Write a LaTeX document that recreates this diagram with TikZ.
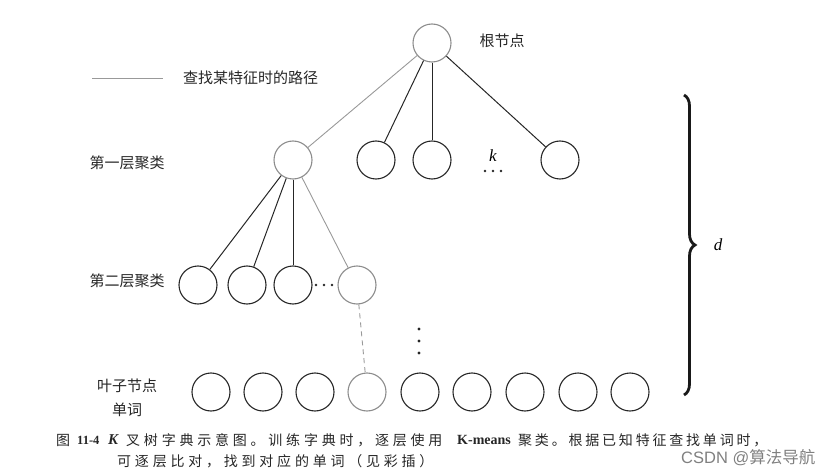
\documentclass[tikz,border=0pt]{standalone}
\usepackage{fontspec}
\setmainfont{Liberation Serif}
\newfontfamily\cjk{Noto Sans CJK SC}
\newfontfamily\capcjk{Noto Sans CJK SC}[LetterSpace=20]
\newfontfamily\capcjkw{Noto Sans CJK SC}[LetterSpace=27]
\newfontfamily\wmsans{Liberation Sans}
\usetikzlibrary{decorations.pathreplacing}
\begin{document}
\begin{tikzpicture}[x=1pt,y=-1pt,
  nd/.style={circle,draw=black!85,line width=1.1pt,minimum size=38pt,inner sep=0pt},
  gnd/.style={nd,draw=black!45},
  edge/.style={line width=1pt,black!85},
  gedge/.style={line width=0.9pt,black!40},
  lbl/.style={font=\cjk\fontsize{15}{17}\selectfont,text=black!85,inner sep=0pt},
  captext/.style={font=\capcjk\fontsize{14}{16}\selectfont,text=black!85,inner sep=0pt,anchor=west},
  captextw/.style={captext,font=\capcjkw\fontsize{14}{16}\selectfont},
  caplat/.style={font=\bfseries\fontsize{14}{16}\selectfont,text=black!85,inner sep=0pt,anchor=west}]
\useasboundingbox (0,0) rectangle (833,476);
% root
\node[gnd] (r) at (432,43) {};
\node[lbl] (rl) at (502,41) {根节点};
% legend
\coordinate (la) at (92,78);
\coordinate (lb) at (163,78);
\draw[gedge] (la) -- (lb);
\node[lbl,anchor=west] (lt) at (183,78) {查找某特征时的路径};
% level 1
\node[gnd] (a1) at (293,160) {};
\node[nd] (a2) at (376,160) {};
\node[nd] (a3) at (432,160) {};
\node[nd] (a4) at (560,160) {};
\node[font=\itshape\fontsize{17}{17}\selectfont,inner sep=0pt] (k) at (493,156) {k};
\foreach \xx/\nm in {485/kd1,493/kd2,501/kd3}
  \fill[black!85] (\xx,171) circle (1.4pt) coordinate (\nm);
\node[lbl] (l1) at (127,163) {第一层聚类};
\draw[gedge] (r) -- (a1);
\draw[edge] (r) -- (a2);
\draw[edge] (r) -- (a3);
\draw[edge] (r) -- (a4);
% level 2
\node[nd] (b1) at (198,285) {};
\node[nd] (b2) at (247,285) {};
\node[nd] (b3) at (293,285) {};
\node[gnd] (b4) at (357,285) {};
\node[lbl] (l2) at (127,281) {第二层聚类};
\draw[edge] (a1) -- (b1);
\draw[edge] (a1) -- (b2);
\draw[edge] (a1) -- (b3);
\draw[gedge] (a1) -- (b4);
\foreach \xx/\nm in {316/bd1,324/bd2,332/bd3}
  \fill[black!85] (\xx,285) circle (1.4pt) coordinate (\nm);
% vertical dots
\foreach \yy/\nm in {329/v1,341/v2,353/v3}
  \fill[black!85] (419,\yy) circle (1.7pt) coordinate (\nm);
% leaves
\foreach \xx/\nm in {211/c1,263/c2,315/c3,420/c5,472/c6,525/c7,578/c8,630/c9}
  \node[nd] (\nm) at (\xx,392) {};
\node[gnd] (c4) at (367,392) {};
\draw[gedge,dash pattern=on 5pt off 4pt] (b4) -- (c4);
\node[lbl] (l3) at (127,386) {叶子节点};
\node[lbl] (l4) at (127,410) {单词};
% brace
\coordinate (ba) at (684,95);
\coordinate (bb) at (684,395);
\draw[decorate,decoration={brace,amplitude=11pt},line width=2.8pt,black!90] (ba) -- (bb);
\node[font=\itshape\fontsize{17}{17}\selectfont,inner sep=0pt] (d) at (718,245) {d};
% caption
\node[captext] (cp1) at (56,440) {图};
\node[caplat,font=\bfseries\fontsize{12.5}{16}\selectfont] (cp2) at (77,440) {11-4};
\node[caplat,font=\bfseries\itshape\fontsize{15}{16}\selectfont] (cp3) at (108,440) {K};
\node[captextw] (cp4) at (126,440) {叉树字典示意图。训练字典时，逐层使用};
\node[caplat] (cp5) at (457,440) {K-means};
\node[captext] (cp6) at (518,440) {聚类。根据已知特征查找单词时，};
\node[captextw] (cap2) at (117,461) {可逐层比对，找到对应的单词（见彩插）};
% watermark
\node[font=\cjk\fontsize{16.5}{18}\selectfont,text=black!50,inner sep=0pt,anchor=west] (wm) at (681,458) {\wmsans CSDN @\cjk 算法导航};
\end{tikzpicture}
\end{document}
